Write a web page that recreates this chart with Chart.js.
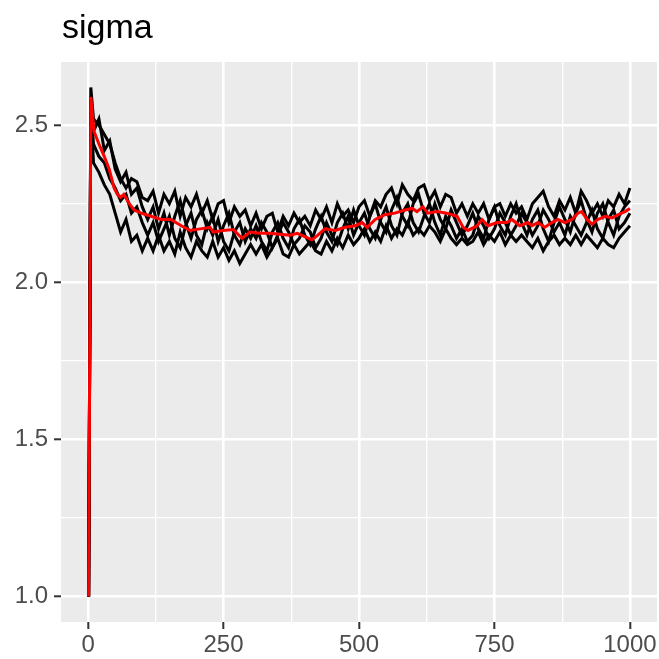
<!DOCTYPE html>
<html>
<head>
<meta charset="utf-8">
<script src="https://cdn.jsdelivr.net/npm/chart.js@4/dist/chart.umd.min.js"></script>
<style>
  html, body { margin: 0; padding: 0; background: #ffffff; }
  #wrap { position: relative; width: 659px; height: 659px; }
  #title {
    position: absolute; left: 62px; top: 9px;
    font-family: "Liberation Sans", Arial, sans-serif;
    font-size: 34px; line-height: 34px; color: #000000;
  }
  canvas { display: block; }
</style>
</head>
<body>
<div id="wrap">
  <div id="title">sigma</div>
  <canvas id="trace" width="659" height="659"></canvas>
</div>
<script>
const chainIter = [1, 5,
  10, 20, 30, 40, 50, 60, 70, 80, 90, 100,
  110, 120, 130, 140, 150, 160, 170, 180, 190, 200,
  210, 220, 230, 240, 250, 260, 270, 280, 290, 300,
  310, 320, 330, 340, 350, 360, 370, 380, 390, 400,
  410, 420, 430, 440, 450, 460, 470, 480, 490, 500,
  510, 520, 530, 540, 550, 560, 570, 580, 590, 600,
  610, 620, 630, 640, 650, 660, 670, 680, 690, 700,
  710, 720, 730, 740, 750, 760, 770, 780, 790, 800,
  810, 820, 830, 840, 850, 860, 870, 880, 890, 900,
  910, 920, 930, 940, 950, 960, 970, 980, 990, 1000];

const chain1 = [1.00, 2.62,
  2.52, 2.50, 2.47, 2.44, 2.38, 2.33, 2.30, 2.33, 2.32, 2.27,
  2.26, 2.29, 2.22, 2.28, 2.25, 2.29, 2.21, 2.27, 2.24, 2.28,
  2.22, 2.26, 2.20, 2.25, 2.26, 2.19, 2.24, 2.21, 2.23, 2.18,
  2.22, 2.17, 2.21, 2.22, 2.16, 2.21, 2.18, 2.22, 2.19, 2.21,
  2.18, 2.23, 2.20, 2.24, 2.19, 2.25, 2.21, 2.23, 2.19, 2.24,
  2.26, 2.21, 2.26, 2.24, 2.28, 2.30, 2.25, 2.31, 2.28, 2.26,
  2.30, 2.31, 2.26, 2.29, 2.24, 2.28, 2.27, 2.22, 2.25, 2.21,
  2.25, 2.22, 2.25, 2.20, 2.24, 2.25, 2.21, 2.25, 2.22, 2.24,
  2.20, 2.25, 2.27, 2.29, 2.24, 2.21, 2.26, 2.23, 2.27, 2.22,
  2.29, 2.26, 2.22, 2.25, 2.21, 2.26, 2.24, 2.28, 2.25, 2.30];

const chain2 = [1.00, 2.58,
  2.48, 2.52, 2.42, 2.45, 2.36, 2.32, 2.35, 2.28, 2.30, 2.24,
  2.20, 2.24, 2.17, 2.22, 2.15, 2.21, 2.26, 2.19, 2.14, 2.20,
  2.23, 2.17, 2.21, 2.13, 2.18, 2.22, 2.15, 2.12, 2.17, 2.14,
  2.18, 2.13, 2.10, 2.16, 2.19, 2.14, 2.11, 2.17, 2.20, 2.15,
  2.12, 2.17, 2.21, 2.16, 2.13, 2.19, 2.22, 2.17, 2.23, 2.18,
  2.15, 2.21, 2.25, 2.19, 2.16, 2.23, 2.27, 2.21, 2.18, 2.25,
  2.28, 2.22, 2.19, 2.25, 2.20, 2.17, 2.23, 2.19, 2.15, 2.18,
  2.22, 2.17, 2.14, 2.20, 2.24, 2.18, 2.15, 2.21, 2.25, 2.19,
  2.15, 2.20, 2.23, 2.17, 2.13, 2.19, 2.24, 2.20, 2.16, 2.22,
  2.26, 2.20, 2.16, 2.22, 2.25, 2.19, 2.15, 2.21, 2.24, 2.26];

const chain3 = [1.00, 2.56,
  2.44, 2.40, 2.38, 2.33, 2.30, 2.26, 2.28, 2.22, 2.24, 2.19,
  2.15, 2.19, 2.13, 2.17, 2.21, 2.14, 2.11, 2.18, 2.22, 2.15,
  2.12, 2.19, 2.15, 2.20, 2.13, 2.10, 2.16, 2.19, 2.13, 2.17,
  2.14, 2.19, 2.16, 2.11, 2.15, 2.19, 2.16, 2.12, 2.14, 2.18,
  2.16, 2.11, 2.14, 2.19, 2.15, 2.12, 2.17, 2.21, 2.15, 2.19,
  2.22, 2.17, 2.14, 2.20, 2.24, 2.18, 2.15, 2.22, 2.25, 2.19,
  2.16, 2.21, 2.25, 2.19, 2.15, 2.21, 2.18, 2.14, 2.17, 2.13,
  2.15, 2.21, 2.18, 2.14, 2.17, 2.22, 2.19, 2.15, 2.18, 2.22,
  2.19, 2.15, 2.18, 2.23, 2.20, 2.16, 2.19, 2.15, 2.21, 2.18,
  2.15, 2.19, 2.23, 2.17, 2.14, 2.20, 2.23, 2.17, 2.19, 2.22];

const chain4 = [1.00, 2.55,
  2.38, 2.35, 2.31, 2.28, 2.22, 2.16, 2.20, 2.13, 2.15, 2.10,
  2.14, 2.10, 2.15, 2.10, 2.13, 2.09, 2.16, 2.11, 2.08, 2.13,
  2.10, 2.08, 2.13, 2.08, 2.11, 2.07, 2.10, 2.06, 2.09, 2.12,
  2.09, 2.12, 2.08, 2.11, 2.14, 2.09, 2.08, 2.12, 2.09, 2.11,
  2.13, 2.10, 2.09, 2.13, 2.10, 2.14, 2.11, 2.15, 2.12, 2.14,
  2.17, 2.13, 2.16, 2.13, 2.18, 2.14, 2.17, 2.15, 2.19, 2.15,
  2.17, 2.15, 2.18, 2.16, 2.13, 2.17, 2.14, 2.12, 2.14, 2.12,
  2.13, 2.16, 2.12, 2.15, 2.13, 2.16, 2.12, 2.15, 2.13, 2.15,
  2.13, 2.11, 2.14, 2.10, 2.13, 2.15, 2.12, 2.14, 2.12, 2.15,
  2.12, 2.15, 2.13, 2.11, 2.14, 2.12, 2.11, 2.14, 2.16, 2.18];

// red mean line, read at its own turning points
const meanIter = [1, 5, 11, 20, 30, 39, 48, 54, 60, 66, 76, 85, 98, 116, 135, 153, 172,
  188, 207, 225, 231, 249, 268, 284, 299, 317, 336, 354, 373, 386,
  400, 413, 424, 437, 456, 474, 493, 506, 515, 530, 548, 566, 585, 598,
  607, 618, 627, 644, 662, 681, 692, 701, 718, 727, 738, 755, 773, 782, 797,
  812, 819, 830, 843, 856, 867, 880, 893, 904, 911, 921, 930, 941, 954, 967, 978, 991, 1000];
const meanVals = [1.00, 2.59, 2.48, 2.44, 2.40, 2.36, 2.30, 2.28, 2.27, 2.28, 2.25, 2.23, 2.22, 2.21, 2.20, 2.20, 2.18,
  2.165, 2.17, 2.175, 2.16, 2.165, 2.168, 2.14, 2.16, 2.156, 2.156, 2.153, 2.15, 2.156,
  2.145, 2.135, 2.15, 2.17, 2.165, 2.175, 2.18, 2.19, 2.175, 2.20, 2.215, 2.22, 2.23, 2.235,
  2.225, 2.24, 2.22, 2.225, 2.22, 2.21, 2.175, 2.165, 2.18, 2.20, 2.18, 2.19, 2.19, 2.20, 2.18,
  2.19, 2.18, 2.19, 2.175, 2.19, 2.20, 2.19, 2.20, 2.22, 2.225, 2.20, 2.185, 2.20, 2.21, 2.205, 2.215, 2.225, 2.235];

const xGrid = [0, 125, 250, 375, 500, 625, 750, 875, 1000];
const xMajor = [0, 250, 500, 750, 1000];
const yGrid = [1.0, 1.25, 1.5, 1.75, 2.0, 2.25, 2.5];
const yMajor = [1.0, 1.5, 2.0, 2.5];

const pts = (xs, ys) => xs.map((x, i) => ({ x: x, y: ys[i] }));
const isMajor = (list, v) => list.some((m) => Math.abs(m - v) < 1e-9);

const panelBg = {
  id: "panelBg",
  beforeDraw(chart) {
    const a = chart.chartArea, ctx = chart.ctx;
    ctx.save();
    ctx.fillStyle = "#EBEBEB";
    ctx.fillRect(a.left, a.top, a.right - a.left, a.bottom - a.top);
    ctx.restore();
  }
};

const chainStyle = { borderColor: "#000000", borderWidth: 3, pointRadius: 0, tension: 0, order: 2 };

const gridFor = (major) => ({
  color: "#FFFFFF",
  lineWidth: (c) => isMajor(major, c.tick.value) ? 2.6 : 1.3,
  drawTicks: true,
  tickLength: 7,
  tickColor: (c) => isMajor(major, c.tick.value) ? "#333333" : "rgba(0,0,0,0)",
  tickWidth: (c) => isMajor(major, c.tick.value) ? 2 : 0
});

new Chart(document.getElementById("trace").getContext("2d"), {
  type: "line",
  data: {
    datasets: [
      Object.assign({ data: pts(chainIter, chain1) }, chainStyle),
      Object.assign({ data: pts(chainIter, chain2) }, chainStyle),
      Object.assign({ data: pts(chainIter, chain3) }, chainStyle),
      Object.assign({ data: pts(chainIter, chain4) }, chainStyle),
      { data: pts(meanIter, meanVals), borderColor: "#FF0000", borderWidth: 3, pointRadius: 0, tension: 0, order: 1 }
    ]
  },
  options: {
    responsive: false,
    devicePixelRatio: 1,
    animation: false,
    events: [],
    layout: { padding: { top: 62, right: 2, left: 0, bottom: 0 } },
    plugins: { legend: { display: false }, tooltip: { enabled: false }, title: { display: false } },
    scales: {
      x: {
        type: "linear",
        min: -50, max: 1050,
        afterBuildTicks: (s) => { s.ticks = xGrid.map((v) => ({ value: v })); },
        afterFit: (s) => { s.height = 37; s.paddingLeft = 0; s.paddingRight = 0; },
        border: { display: false },
        grid: gridFor(xMajor),
        ticks: {
          color: "#4D4D4D", padding: 2, maxRotation: 0, autoSkip: false,
          font: { family: "Liberation Sans", size: 24 },
          callback: (v) => isMajor(xMajor, v) ? String(v) : ""
        }
      },
      y: {
        type: "linear",
        min: 0.919, max: 2.701,
        afterBuildTicks: (s) => { s.ticks = yGrid.map((v) => ({ value: v })); },
        afterFit: (s) => { s.width = 61; s.paddingTop = 0; s.paddingBottom = 0; },
        border: { display: false },
        grid: gridFor(yMajor),
        ticks: {
          color: "#4D4D4D", padding: 6, autoSkip: false,
          font: { family: "Liberation Sans", size: 24 },
          callback: (v) => isMajor(yMajor, v) ? v.toFixed(1) : ""
        }
      }
    }
  },
  plugins: [panelBg]
});
</script>
</body>
</html>
